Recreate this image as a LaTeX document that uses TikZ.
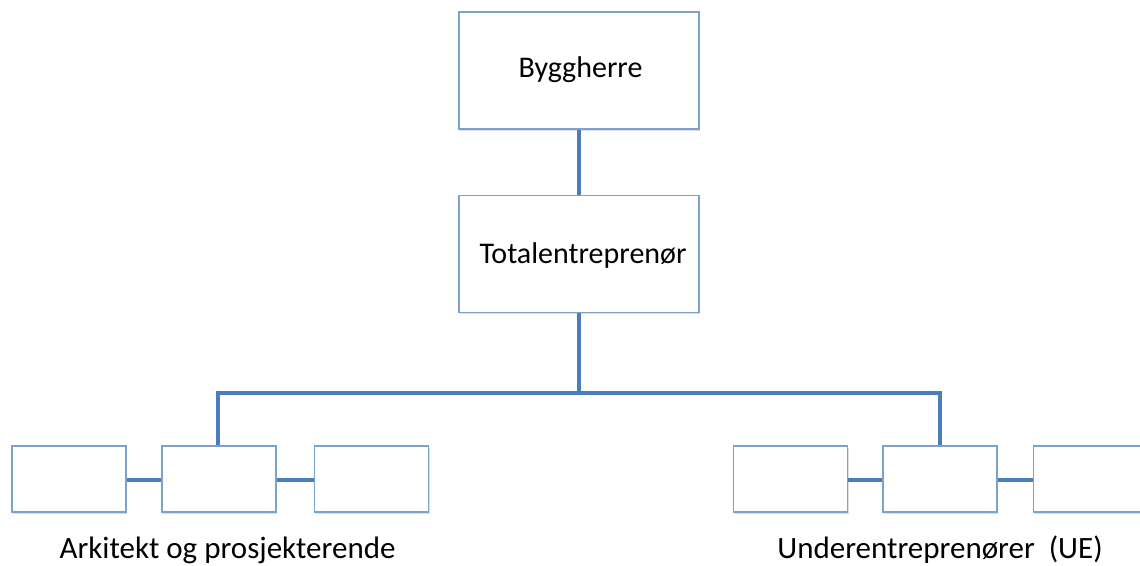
\documentclass[tikz,border=0pt]{standalone}
\usepackage{fontspec}
\setmainfont{Carlito}
\usetikzlibrary{shadows}
\definecolor{boxline}{HTML}{7EA0CF}
\definecolor{linkline}{HTML}{4A7EBB}
\begin{document}
\begin{tikzpicture}[x=1pt,y=-1pt,
  font=\fontsize{30}{36}\selectfont,
  orgbox/.style={draw=boxline, line width=1.5pt, fill=white, rectangle,
    minimum width=#1, minimum height=117pt, inner sep=0pt,
    drop shadow={shadow xshift=1pt, shadow yshift=-1.5pt, opacity=0.22, fill=black!60}},
  smallbox/.style={draw=boxline, line width=1.5pt, fill=white, rectangle,
    minimum width=114pt, minimum height=66pt, inner sep=0pt,
    drop shadow={shadow xshift=1pt, shadow yshift=-1.5pt, opacity=0.22, fill=black!60}},
  link/.style={draw=linkline, line width=4pt},
  caption/.style={inner sep=0pt, anchor=base, font=\fontsize{31}{37}\selectfont}]
\useasboundingbox (0,0) rectangle (1140,565);

% connectors first, boxes on top
\coordinate (bus) at (579,393);
\coordinate (topC) at (579,70);
\coordinate (midC) at (579,254);
\draw[link] (topC) -- (midC) -- (bus);
\draw[link] (218,479) |- (bus) -| (940,479);
\draw[link] (69,480) -- (371,480);
\draw[link] (790,480) -- (1090,480);

% top of the hierarchy
\node[orgbox=240pt] (bh) at (579,70.5) {};
\node at (580.5,70) {Byggherre};
\node[orgbox=240pt] (te) at (579,254) {};
\node at (583,255) {Totalentrepren\o r};

% architect and designers
\node[smallbox] (a1) at (69,479) {};
\node[smallbox] (a2) at (219,479) {};
\node[smallbox] (a3) at (371.5,479) {};
\node[caption] (acap) at (227.5,558) {Arkitekt og prosjekterende};

% subcontractors
\node[smallbox] (u1) at (790.5,479) {};
\node[smallbox] (u2) at (940,479) {};
\node[smallbox] (u3) at (1090.5,479) {};
\node[caption] (ucap) at (940,558) {Underentrepren\o rer\ \ (UE)};
\end{tikzpicture}
\end{document}
